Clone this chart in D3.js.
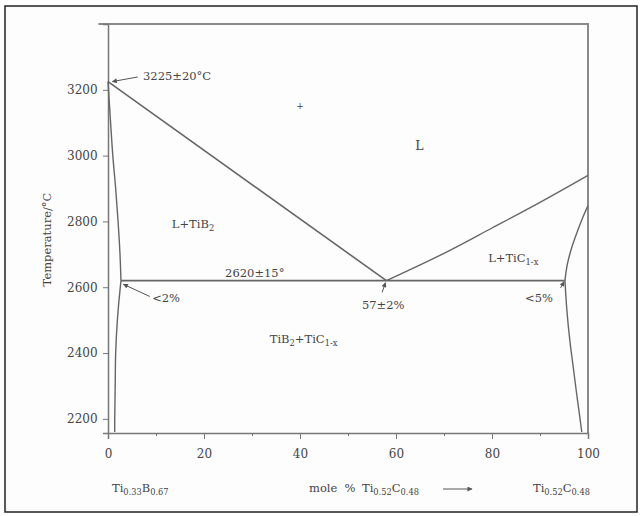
<!DOCTYPE html>
<html>
<head>
<meta charset="utf-8">
<script src="https://cdn.jsdelivr.net/npm/d3@7"></script>
<style>
  body { margin: 0; background: #ffffff; }
  svg text { font-family: "DejaVu Serif", "Liberation Serif", serif; fill: #444; }
</style>
</head>
<body>
<svg id="chart" width="642" height="516"></svg>
<script>
// Axis ticks
const xTicks = [0, 20, 40, 60, 80, 100];
const xMinorTicks = [10, 30, 50, 70, 90];
const yTicks = [2200, 2400, 2600, 2800, 3000, 3200];

// Phase boundaries: [mole % Ti0.52C0.48, temperature °C]
const liquidusLeft = [[0, 3225], [58, 2620]];
const liquidusRight = [[58, 2620], [70, 2703], [80, 2780], [90, 2858], [100, 2940]];
const eutecticLine = [[2.7, 2620], [95.2, 2620]];
const tib2Solidus = [[0, 3225], [0.5, 3110], [1.0, 3000], [1.6, 2900], [2.1, 2800], [2.5, 2700], [2.7, 2620]];
const tib2Solvus = [[2.7, 2620], [2.0, 2510], [1.6, 2400], [1.5, 2300], [1.4, 2200], [1.4, 2160]];
const ticSolidus = [[95.2, 2620], [95.7, 2670], [96.6, 2720], [97.8, 2770], [99.0, 2815], [100, 2848]];
const ticSolvus = [[95.2, 2620], [95.6, 2530], [96.2, 2440], [96.9, 2360], [97.6, 2280], [98.3, 2205], [98.7, 2160]];

const svg = d3.select("#chart");

// Outer frame
svg.append("rect")
  .attr("x", 5).attr("y", 6)
  .attr("width", 632).attr("height", 506)
  .attr("fill", "#fdfdfd")
  .attr("stroke", "#222")
  .attr("stroke-width", 1.5);

// Scales
const x = d3.scaleLinear().domain([0, 100]).range([108, 588]);
const y = d3.scaleLinear().domain([2157, 3400]).range([433, 24]);

const lineColor = "#666";

// Plot box (top and right sides)
svg.append("path")
  .attr("d", `M${x(-2)},${y(3400)}H${x(100)}V${y(2157)}`)
  .attr("fill", "none")
  .attr("stroke", "#8a8a8a")
  .attr("stroke-width", 2);

// x axis
const xAxis = svg.append("g")
  .attr("transform", `translate(0,${y(2157)})`)
  .call(d3.axisBottom(x).tickValues(xTicks).tickSize(6).tickFormat(d3.format("d")));
svg.append("g")
  .attr("transform", `translate(0,${y(2157)})`)
  .call(d3.axisBottom(x).tickValues(xMinorTicks).tickSize(3).tickFormat(""))
  .call(g => g.select(".domain").remove());

// y axis
const yAxis = svg.append("g")
  .attr("transform", `translate(${x(0)},0)`)
  .call(d3.axisLeft(y).tickValues(yTicks).tickSize(5).tickFormat(d3.format("d")));

svg.selectAll(".domain").attr("stroke", "#777").attr("stroke-width", 1.5);
svg.selectAll(".tick line").attr("stroke", "#777");
svg.selectAll(".tick text")
  .attr("font-family", "DejaVu Serif")
  .attr("font-size", 12)
  .attr("fill", "#555");
xAxis.selectAll(".tick text").attr("dy", "1.3em");
yAxis.selectAll(".tick text").attr("dx", "-0.2em");

// Phase boundaries
const line = d3.line().x(d => x(d[0])).y(d => y(d[1]));
const lineSmooth = d3.line().x(d => x(d[0])).y(d => y(d[1])).curve(d3.curveCatmullRom);

[liquidusLeft, eutecticLine].forEach(pts => {
  svg.append("path").attr("d", line(pts))
    .attr("fill", "none").attr("stroke", lineColor).attr("stroke-width", 1.6);
});
[liquidusRight, tib2Solidus, tib2Solvus, ticSolidus, ticSolvus].forEach(pts => {
  svg.append("path").attr("d", lineSmooth(pts))
    .attr("fill", "none").attr("stroke", lineColor).attr("stroke-width", 1.4);
});

// Arrow marker
svg.append("defs").append("marker")
  .attr("id", "arrow")
  .attr("viewBox", "0 0 10 10")
  .attr("refX", 9).attr("refY", 5)
  .attr("markerWidth", 6).attr("markerHeight", 5)
  .attr("orient", "auto")
  .append("path").attr("d", "M0,0L10,5L0,10Z").attr("fill", "#555");

function arrow(x1, y1, x2, y2) {
  svg.append("line")
    .attr("x1", x(x1)).attr("y1", y(y1))
    .attr("x2", x(x2)).attr("y2", y(y2))
    .attr("stroke", "#555").attr("stroke-width", 1)
    .attr("marker-end", "url(#arrow)");
}

// Text with subscripts: parts = [[text, isSub], ...]
function richText(px, py, parts, size) {
  const fs = size || 11.5;
  const t = svg.append("text").attr("x", px).attr("y", py).attr("font-size", fs);
  let wasSub = false;
  parts.forEach(p => {
    const s = t.append("tspan").text(p[0]);
    if (p[1]) s.attr("font-size", fs * 0.72).attr("dy", wasSub ? 0 : 3);
    else s.attr("dy", wasSub ? -3 : 0);
    wasSub = !!p[1];
  });
  return t;
}
function label(xv, yv, parts, size) {
  return richText(x(xv), y(yv), parts, size);
}

label(7.3, 3230, [["3225±20°C"]]);
arrow(6.2, 3239, 0.9, 3225);

label(64, 3018, [["L"]], 12.5);
label(39.2, 3142, [["+"]], 9);

label(13.3, 2780, [["L+TiB"], ["2", true]]);
label(24.4, 2632, [["2620±15°"]]);

label(9.2, 2555, [["<2%"]]);
arrow(8.7, 2572, 3.2, 2609);

label(52.9, 2534, [["57±2%"]]);
arrow(57.1, 2584, 57.8, 2614);

label(33.7, 2431, [["TiB"], ["2", true], ["+TiC"], ["1-x", true]]);
label(79.2, 2677, [["L+TiC"], ["1-x", true]]);

label(86.9, 2555, [["<5%"]]);
arrow(94.3, 2598, 95, 2617);

// y axis title
svg.append("text")
  .attr("transform", `translate(51,${y(2745)}) rotate(-90)`)
  .attr("text-anchor", "middle")
  .attr("font-size", 11.5)
  .text("Temperature/°C");

// bottom composition labels
richText(112, 492, [["Ti"], ["0.33", true], ["B"], ["0.67", true]]);
richText(309, 492, [["mole  %"]]).attr("xml:space", "preserve");
richText(362, 492, [["Ti"], ["0.52", true], ["C"], ["0.48", true]]);
richText(533, 492, [["Ti"], ["0.52", true], ["C"], ["0.48", true]]);

svg.append("line")
  .attr("x1", 443).attr("y1", 489).attr("x2", 472).attr("y2", 489)
  .attr("stroke", "#555").attr("stroke-width", 1)
  .attr("marker-end", "url(#arrow)");
</script>
</body>
</html>
